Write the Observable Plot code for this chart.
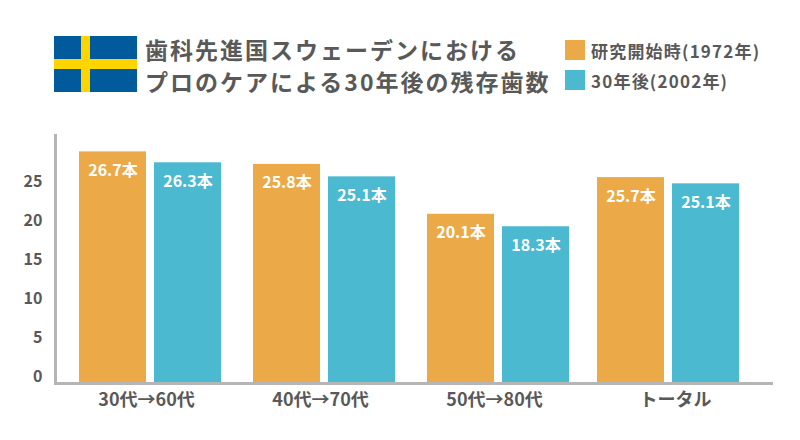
<!DOCTYPE html>
<html lang="ja">
<head>
<meta charset="utf-8">
<script src="https://cdn.jsdelivr.net/npm/d3@7"></script>
<script src="https://cdn.jsdelivr.net/npm/@observablehq/plot@0.6"></script>
<style>
html,body{margin:0;padding:0;background:#fff;}
body{width:800px;height:440px;overflow:hidden;font-family:"Noto Sans CJK JP","Noto Sans",sans-serif;color:#595959;}
#head{position:relative;height:110px;width:800px;}
#flag{position:absolute;left:54px;top:36px;width:83px;height:56px;background:#005a9c;}
#flag i{position:absolute;background:#ffd500;display:block;}
#flag .v{left:27px;top:0;width:9px;height:56px;}
#flag .h{left:0;top:23px;width:83px;height:10px;}
#title{position:absolute;left:145px;top:33px;font-size:23px;font-weight:700;line-height:32px;letter-spacing:2px;white-space:nowrap;margin:0;}
#legend{position:absolute;left:565px;top:40px;font-size:17px;font-weight:700;white-space:nowrap;}
#legend div{display:flex;align-items:center;height:20px;margin-bottom:10px;letter-spacing:1.2px;}
#legend span{display:inline-block;width:20px;height:20px;margin-right:6px;}
svg{display:block;}
</style>
</head>
<body>
<div id="head">
  <div id="flag"><i class="v"></i><i class="h"></i></div>
  <h1 id="title"></h1>
  <div id="legend"></div>
</div>
<div id="chart"></div>
<script>
const titleLines = ["歯科先進国スウェーデンにおける", "プロのケアによる30年後の残存歯数"];
const groups = ["30代→60代", "40代→70代", "50代→80代", "トータル"];
const series = ["研究開始時(1972年)", "30年後(2002年)"];
const seriesColors = ["#ebaa47", "#4bb9d0"];
const drawnStart = [29.7, 28.1, 21.7, 26.4];
const drawnAfter = [28.3, 26.5, 20.1, 25.6];
const labelStart = ["26.7本", "25.8本", "20.1本", "25.7本"];
const labelAfter = ["26.3本", "25.1本", "18.3本", "25.1本"];
const yTicks = [0, 5, 10, 15, 20, 25];

document.getElementById("title").innerHTML = titleLines.join("<br>");
const legend = document.getElementById("legend");
series.forEach((s, i) => {
  const row = document.createElement("div");
  const sw = document.createElement("span");
  sw.style.background = seriesColors[i];
  row.append(sw, s);
  legend.append(row);
});

const rowsOf = (values, labels, s) => groups.map((g, i) => ({group: g, series: s, value: values[i], label: labels[i]}));
const startRows = rowsOf(drawnStart, labelStart, series[0]);
const afterRows = rowsOf(drawnAfter, labelAfter, series[1]);

// each series occupies a fixed slot of the group band
const seriesMarks = (data, insetLeft, insetRight, textDx, dx) => [
  Plot.barY(data, {x: "group", y: "value", fill: "series", insetLeft, insetRight, dx}),
  Plot.text(data, {x: "group", y: "value", text: "label", dx: textDx + dx, dy: 19,
    fill: "#fff", fontSize: 16, fontWeight: 700, style: {letterSpacing: "1.4px"}})
];
const isLast = d => d.group === groups[3];

const plot = Plot.plot({
  width: 800, height: 330,
  marginLeft: 55, marginRight: 29, marginTop: 25, marginBottom: 57,
  style: {fontFamily: '"Noto Sans CJK JP","Noto Sans",sans-serif', background: "#fff", color: "#595959"},
  x: {domain: groups, range: [55, 751], padding: 0, round: false, label: null, axis: null},
  y: {domain: [0, 31.8], label: null},
  color: {domain: series, range: seriesColors},
  marks: [
    ...seriesMarks(startRows.filter(d => !isLast(d)), 24, 83, -29.5, 0),
    ...seriesMarks(afterRows.filter(d => !isLast(d)), 99, 8, 45.5, 0),
    ...seriesMarks(startRows.filter(isLast), 24, 83, -29.5, -4),
    ...seriesMarks(afterRows.filter(isLast), 99, 8, 45.5, -4),
    Plot.frame({anchor: "left", stroke: "#b5b5b5", strokeWidth: 3}),
    Plot.frame({anchor: "bottom", stroke: "#b5b5b5", strokeWidth: 3}),
    Plot.axisY({ticks: yTicks, tickSize: 0, tickPadding: 13, dy: -7, label: null,
      fontSize: 16, fontWeight: 700, fill: "#595959"}),
    Plot.axisX({ticks: groups.slice(0, 3), tickSize: 0, tickPadding: 10, label: null, dx: 4,
      fontSize: 18, fontWeight: 700, fill: "#595959", style: {letterSpacing: "2px"}}),
    Plot.axisX({ticks: groups.slice(3), tickSize: 0, tickPadding: 10, label: null, dx: 11,
      fontSize: 18, fontWeight: 700, fill: "#595959", style: {letterSpacing: "2px"}})
  ]
});
document.getElementById("chart").append(plot);
</script>
</body>
</html>
